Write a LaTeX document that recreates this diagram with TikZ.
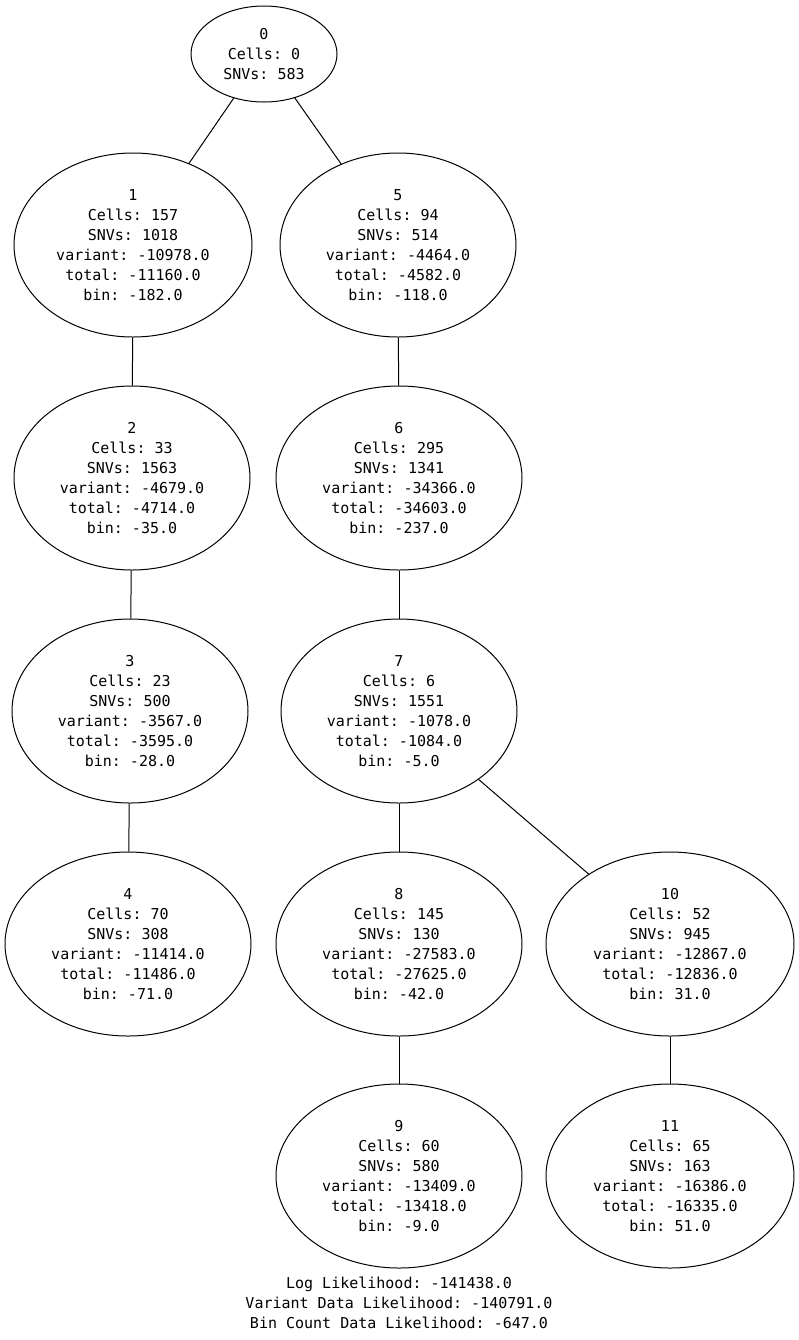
\documentclass[tikz,border=0pt]{standalone}
\usepackage{fontspec}
\setmonofont{DejaVu Sans Mono}
\usetikzlibrary{shapes.geometric}
\begin{document}
\begin{tikzpicture}[x=0.75pt,y=-0.75pt,
  tnode/.style={ellipse, draw=black, line width=0.75pt, inner sep=0pt, align=center,
    font=\ttfamily\fontsize{11.25}{15}\selectfont},
  small/.style={minimum width=146\pxu, minimum height=96\pxu},
  big/.style={minimum width=#1\pxu, minimum height=184\pxu},
  edge/.style={draw=black, line width=0.75pt}]
\def\pxu{*0.75pt}
\useasboundingbox[fill=white] (0,0) rectangle (799,1340);
\node[tnode, small] (n0) at (264,54) {0\\Cells: 0\\SNVs: 583};
\node[tnode, big=238] (n1) at (133,245) {1\\Cells: 157\\SNVs: 1018\\variant: -10978.0\\total: -11160.0\\bin: -182.0};
\node[tnode, big=236] (n5) at (398,245) {5\\Cells: 94\\SNVs: 514\\variant: -4464.0\\total: -4582.0\\bin: -118.0};
\node[tnode, big=236] (n2) at (132,478) {2\\Cells: 33\\SNVs: 1563\\variant: -4679.0\\total: -4714.0\\bin: -35.0};
\node[tnode, big=246] (n6) at (399,478) {6\\Cells: 295\\SNVs: 1341\\variant: -34366.0\\total: -34603.0\\bin: -237.0};
\node[tnode, big=236] (n3) at (130,711) {3\\Cells: 23\\SNVs: 500\\variant: -3567.0\\total: -3595.0\\bin: -28.0};
\node[tnode, big=236] (n7) at (399,711) {7\\Cells: 6\\SNVs: 1551\\variant: -1078.0\\total: -1084.0\\bin: -5.0};
\node[tnode, big=246] (n4) at (128,944) {4\\Cells: 70\\SNVs: 308\\variant: -11414.0\\total: -11486.0\\bin: -71.0};
\node[tnode, big=246] (n8) at (399,944) {8\\Cells: 145\\SNVs: 130\\variant: -27583.0\\total: -27625.0\\bin: -42.0};
\node[tnode, big=248] (n10) at (670,944) {10\\Cells: 52\\SNVs: 945\\variant: -12867.0\\total: -12836.0\\bin: 31.0};
\node[tnode, big=246] (n9) at (399,1176) {9\\Cells: 60\\SNVs: 580\\variant: -13409.0\\total: -13418.0\\bin: -9.0};
\node[tnode, big=248] (n11) at (670,1176) {11\\Cells: 65\\SNVs: 163\\variant: -16386.0\\total: -16335.0\\bin: 51.0};
\node[align=center, inner sep=0pt, font=\ttfamily\fontsize{11.25}{15}\selectfont] (foot) at (399,1303)
  {Log Likelihood: -141438.0\\Variant Data Likelihood: -140791.0\\Bin Count Data Likelihood: -647.0};
\draw[edge] (n0) -- (n1);
\draw[edge] (n0) -- (n5);
\draw[edge] (n1) -- (n2);
\draw[edge] (n2) -- (n3);
\draw[edge] (n3) -- (n4);
\draw[edge] (n5) -- (n6);
\draw[edge] (n6) -- (n7);
\draw[edge] (n7) -- (n8);
\draw[edge] (n7) -- (n10);
\draw[edge] (n8) -- (n9);
\draw[edge] (n10) -- (n11);
\end{tikzpicture}
\end{document}
